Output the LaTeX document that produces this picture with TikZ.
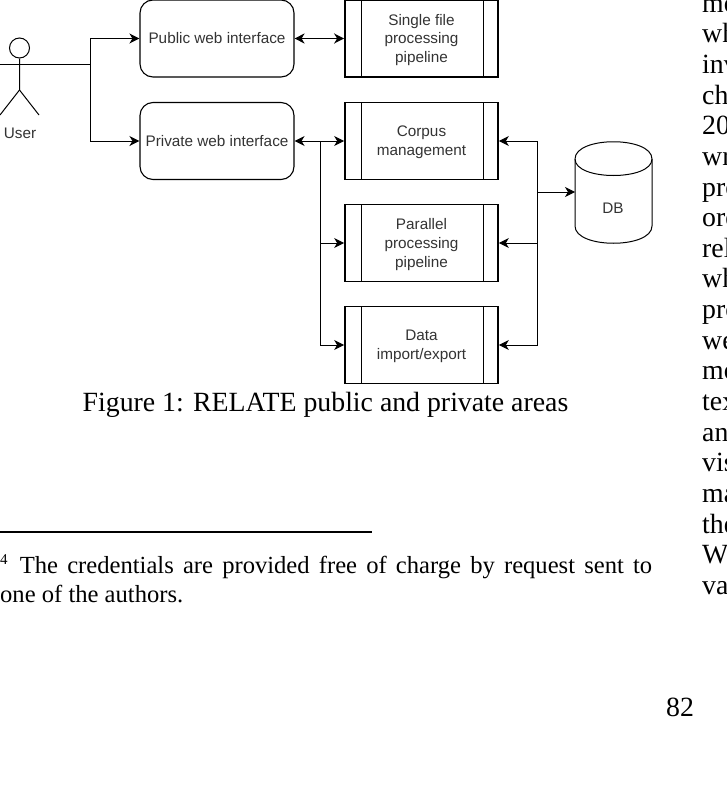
\documentclass[tikz,border=0pt]{standalone}
\usepackage{fontspec}
\setmainfont{Liberation Serif}
\setsansfont{Liberation Sans}
\usetikzlibrary{arrows.meta}

\tikzset{
    tip/.tip={Stealth[length=10pt,width=10pt,inset=3pt]},
    flow/.style={line width=1pt},
    arrow/.style={flow, -tip},
    biarrow/.style={line width=1.8pt, tip-tip},
    diagtext/.style={text=black!80, font=\sffamily\fontsize{15.3}{18.7}\selectfont, inner sep=0pt, align=center},
    webbox/.style={draw, diagtext, line width=1.1pt, rounded corners=13pt, minimum width=154pt, minimum height=77pt},
    procbox/.style={draw, line width=1.7pt, minimum width=153pt, minimum height=77pt, inner sep=0pt},
    page/.style={inner sep=0pt, font=\fontsize{27.8}{30.63}\selectfont}
}

\begin{document}
\begin{tikzpicture}[x=1pt, y=-1pt]
                    \useasboundingbox (0,0) rectangle (727,787);
                    \node[webbox] (public) at (217,38.5) {Public web interface};
                    \node[webbox] (private) at (217,141) {Private web interface};
                    \node[procbox] (single) at (421.5,38.5) {};
                    \node[procbox] (corpus) at (421.5,141) {};
                    \node[procbox] (parallel) at (421.5,243) {};
                    \node[procbox] (data) at (421.5,345) {};
                    \node[diagtext] (singletext) at (421.5,40) {Single file\\processing\\pipeline};
                    \node[diagtext] (corpustext) at (421.5,142) {Corpus\\management};
                    \node[diagtext] (paralleltext) at (421.5,244.5) {Parallel\\processing\\pipeline};
                    \node[diagtext] (datatext) at (421.5,346) {Data\\import/export};
                    \draw (361,0) -- (361,77);   %single inner lines
                    \draw (483,0) -- (483,77);
                    \draw (361,103) -- (361,179);   %corpus inner lines
                    \draw (483,103) -- (483,179);
                    \draw (361,205) -- (361,281);   %parallel inner lines
                    \draw (483,205) -- (483,281);
                    \draw (361,307) -- (361,383);   %data inner lines
                    \draw (483,307) -- (483,383);
                    \draw[flow] (575,159) .. controls (575,136) and (652,136) .. (652,159) -- (652,226) .. controls (652,249) and (575,249) .. (575,226) -- cycle;   %db
                    \draw[flow] (575,159) .. controls (575,181) and (652,181) .. (652,159);
                    \coordinate (db) at (575,192);
                    \node[diagtext] (dblabel) at (613,208) {DB};
                    \node[circle, draw, flow, minimum size=20pt, inner sep=0pt] (head) at (19.5,48) {};   %user
                    \coordinate (handL) at (0,64);
                    \coordinate (handR) at (39,64);
                    \coordinate (hip) at (19.5,90);
                    \coordinate (footL) at (0,115);
                    \coordinate (footR) at (39,115);
                    \draw[flow] (head) -- (hip) -- (footL);
                    \draw[flow] (hip) -- (footR);
                    \draw[flow] (handL) -- (handR);
                    \node[diagtext] (user) at (20,133) {User};
                    \coordinate (splituser) at (90,64);
                    \coordinate (busleft) at (320,141);
                    \coordinate (busright) at (537,192);
                    \draw[flow] (handR) -- (splituser);
                    \draw[arrow] (splituser) |- (public.west);
                    \draw[arrow] (splituser) |- (private.west);
                    \draw[biarrow] (public.east) -- (single.west);   %single file route
                    \draw[flow, tip-tip] (private.east) -- (corpus.west);
                    \draw[arrow] (busleft) |- (parallel.west);
                    \draw[arrow] (busleft) |- (data.west);
                    \draw[arrow] (busright) |- (corpus.east);
                    \draw[arrow] (busright) |- (parallel.east);
                    \draw[arrow] (busright) |- (data.east);
                    \draw[arrow] (busright) -- (db);
                    \node[page, anchor=base] (caption) at (325.5,411) {Figure 1: RELATE public and private areas};
                    \coordinate (ruleL) at (0,532);
                    \coordinate (ruleR) at (372,532);
                    \draw[line width=1.5pt] (ruleL) -- (ruleR);   %footnote rule
                    \node[page, anchor=north west, text width=652pt, align=justify, font=\fontsize{24.6}{29}\selectfont] (footnote) at (0,554) {\raisebox{0.4em}{\fontsize{15}{15}\selectfont 4} \hspace{3pt}The credentials are provided free of charge by request sent to\linebreak one of the authors.};
                    \node[page, anchor=north west, align=left] (column) at (702,-1) {mo\\wh\\inv\\ch\\20\\wr\\pro\\ord\\rel\\wh\\pro\\we\\mo\\tex\\an\\vis\\ma\\the\\W\\va};
                    \node[page, anchor=base] (pagenum) at (680,716.5) {82};
                \end{tikzpicture}
\end{document}
